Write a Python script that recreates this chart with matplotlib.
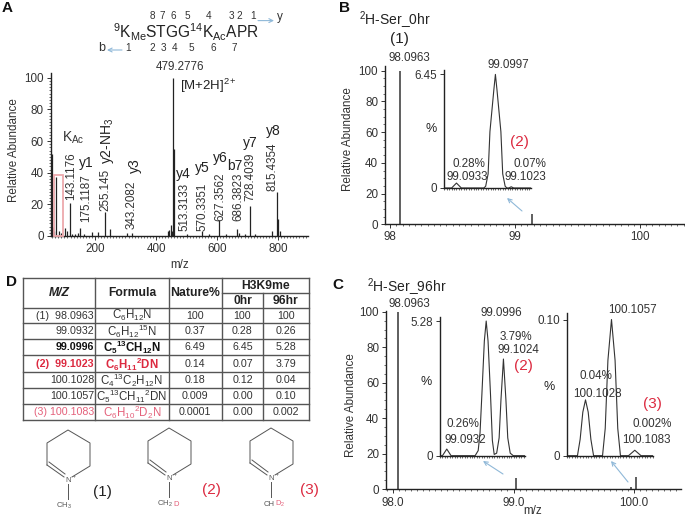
import matplotlib

matplotlib.use("Agg")

import matplotlib.pyplot as plt
from matplotlib.patches import Rectangle

plt.rcParams["font.family"] = ["Liberation Sans", "DejaVu Sans"]
plt.rcParams["mathtext.fontset"] = "custom"
plt.rcParams["mathtext.rm"] = "Liberation Sans"
plt.rcParams["mathtext.bf"] = "Liberation Sans:bold"
plt.rcParams["mathtext.it"] = "Liberation Sans:italic"
plt.rcParams["mathtext.default"] = "regular"

W, H = 685, 518
DARK = "#333333"
RED = "#dc2a40"
PINK = "#e4607a"
BLUE = "#8fb8d8"
NUM = 8.4

# panel A spectrum
a_mz = [58, 62, 66, 74, 82, 90, 102, 108, 118, 125, 135, 145, 151, 165, 190, 210, 233, 249, 304, 320,
        438, 443, 448, 452, 457, 460, 500, 550, 575, 606, 630, 667, 672, 690, 708, 725, 779, 798, 801, 806]
a_int = [52, 6, 3, 37, 3, 2, 5, 3, 21, 1.5, 1.5, 2, 5, 1.5, 2.5, 2.5, 15, 4.5, 2, 2,
         3, 4, 7, 3, 100, 55, 1, 3, 1, 10, 1.5, 4.5, 2, 1.5, 19, 1.5, 3, 28, 11, 3]
a_ticks = [200, 400, 600, 800]

# panel B spectrum and inset
b_mz = [98.08, 99.136]
b_int = [100, 7]
b_ticks = [98, 99, 100]
b_inset_mz = [99.0913, 99.0925, 99.0933, 99.0941, 99.0978, 99.0981, 99.0985, 99.0988, 99.09945, 99.0997,
              99.09995, 99.1006, 99.1009, 99.1013, 99.1016, 99.1019, 99.1023, 99.1027, 99.1055]
b_inset_int = [0, 0, 0.28, 0, 0, 0.1, 0.8, 3.2, 5.6, 6.45, 5.6, 3.2, 0.8, 0.1, 0, 0, 0.07, 0, 0]

# panel C spectrum and insets
c_mz = [98.04, 99.02, 99.98, 100.02]
c_int = [100, 6, 1, 6.5]
c_ticks = [98, 99, 100]
c_inset1_mz = [99.0921, 99.0925, 99.0932, 99.0939, 99.0978, 99.0983, 99.0986, 99.0989, 99.0993, 99.0996,
               99.0999, 99.1003, 99.1006, 99.1009, 99.1013, 99.1017, 99.1020, 99.1024, 99.1028, 99.1031,
               99.1035, 99.1040, 99.1059]
c_inset1_int = [0, 0, 0.26, 0, 0, 0.2, 0.9, 2.4, 4.5, 5.28, 4.5, 2.4, 0.6, 0.05, 0.1, 0.7, 2.2, 3.79, 2.2, 0.7,
                0.1, 0, 0]
c_inset2_mz = [100.1007, 100.1019, 100.1022, 100.1025, 100.1028, 100.1031, 100.1034, 100.1037, 100.1047,
               100.1050, 100.1053, 100.1057, 100.1061, 100.1064, 100.1067, 100.1076, 100.1083, 100.1090, 100.1103]
c_inset2_int = [0, 0, 0.012, 0.032, 0.041, 0.032, 0.012, 0, 0, 0.02, 0.07, 0.10, 0.07, 0.02, 0, 0, 0.004, 0, 0]

# table D
table_mz = ["(1)  98.0963", "99.0932", "99.0996", "(2)  99.1023", "100.1028", "100.1057", "(3) 100.1083"]
table_formula = ["$C_6H_{12}N$", "$C_6H_{12}{}^{15}N$", "$C_5{}^{13}CH_{12}N$", "$C_6H_{11}{}^{2}DN$",
                 "$C_4{}^{13}C_2H_{12}N$", "$C_5{}^{13}CH_{11}{}^{2}DN$", "$C_6H_{10}{}^{2}D_2N$"]
table_nature = ["100", "0.37", "6.49", "0.14", "0.18", "0.009", "0.0001"]
table_0hr = ["100", "0.28", "6.45", "0.07", "0.12", "0.00", "0.00"]
table_96hr = ["100", "0.26", "5.28", "3.79", "0.04", "0.10", "0.002"]


def axes_px(fig, left, top, right, bottom):
    return fig.add_axes([left / W, 1 - bottom / H, (right - left) / W, (bottom - top) / H])


def style_spectrum(ax, xlim, ylim):
    ax.set_xlim(*xlim)
    ax.set_ylim(*ylim)
    ax.patch.set_alpha(0)
    for side in ["top", "right"]:
        ax.spines[side].set_visible(False)
    for side in ["left", "bottom"]:
        ax.spines[side].set_color("#222222")
        ax.spines[side].set_linewidth(1.0)
    ax.tick_params(labelsize=NUM, colors=DARK, length=3, width=0.7, pad=2)
    ax.tick_params(which="minor", length=1.5, width=0.5, color=DARK)


fig = plt.figure(figsize=(W / 100, H / 100), dpi=100)

# A
ax = axes_px(fig, 50.7, 73, 308, 236)
style_spectrum(ax, (55, 898), (0, 103))
ax.vlines(a_mz, 0, a_int, color="#222222", linewidth=0.9)
ax.set_xticks(a_ticks)
ax.set_xticks(range(60, 900, 10), minor=True)
ax.set_yticks([0, 20, 40, 60, 80, 100])
ax.set_yticks(range(0, 101, 2), minor=True)
ax.set_xlabel("m/z", fontsize=NUM, color=DARK, labelpad=3)
ax.set_ylabel("Relative Abundance", fontsize=NUM, color=DARK, labelpad=3, y=0.53)

# B
ax = axes_px(fig, 385, 66, 685, 224.3)
style_spectrum(ax, (97.96, 100.36), (0, 103))
ax.vlines(b_mz, 0, b_int, color="#444444", linewidth=1.2)
ax.set_xticks(b_ticks)
ax.set_xticks([98 + i * 0.05 for i in range(48)], minor=True)
ax.set_yticks([0, 20, 40, 60, 80, 100])
ax.set_yticks(range(0, 101, 5), minor=True)
ax.set_ylabel("Relative Abundance", fontsize=NUM, color=DARK, labelpad=3, y=0.54)

ax = axes_px(fig, 444.3, 70, 530.7, 188)
style_spectrum(ax, (99.0913, 99.1055), (0, 6.7))
ax.plot(b_inset_mz, b_inset_int, color="#333333", linewidth=0.8)
ax.set_xticks([])
ax.set_xticks([99.0913 + i * 0.0004 for i in range(36)], minor=True)
ax.set_yticks([0, 6.45])
ax.set_yticklabels(["0", "6.45"])

# C
ax = axes_px(fig, 386, 311, 680.7, 489)
style_spectrum(ax, (97.94, 100.39), (0, 100.5))
ax.vlines(c_mz, 0, c_int, color="#333333", linewidth=1.1)
ax.set_xticks(c_ticks)
ax.set_xticklabels(["98.0", "99.0", "100.0"])
ax.tick_params(axis="x", pad=3)
ax.set_xticks([97.95 + i * 0.05 for i in range(49)], minor=True)
ax.set_yticks([0, 20, 40, 60, 80, 100])
ax.set_yticks(range(0, 101, 5), minor=True)
ax.set_ylabel("Relative Abundance", fontsize=NUM, color=DARK, labelpad=2, y=0.47)

ax = axes_px(fig, 440, 316.7, 525, 455.7)
style_spectrum(ax, (99.0921, 99.1059), (0, 5.45))
ax.plot(c_inset1_mz, c_inset1_int, color="#333333", linewidth=0.8)
ax.set_xticks([])
ax.set_xticks([99.0921 + i * 0.0004 for i in range(35)], minor=True)
ax.set_yticks([0, 5.28])
ax.set_yticklabels(["0", "5.28"])

ax = axes_px(fig, 566.7, 312.7, 652.7, 455.7)
style_spectrum(ax, (100.1007, 100.1103), (0, 0.105))
ax.plot(c_inset2_mz, c_inset2_int, color="#333333", linewidth=0.8)
ax.set_xticks([])
ax.set_xticks([100.1007 + i * 0.0003 for i in range(33)], minor=True)
ax.set_yticks([0, 0.10])
ax.set_yticklabels(["0", "0.10"])

# everything else is placed in pixel coordinates
ov = fig.add_axes([0, 0, 1, 1])
ov.set_xlim(0, W)
ov.set_ylim(H, 0)
ov.axis("off")
ov.patch.set_alpha(0)


def t(x, y, s, size=NUM, color=DARK, ha="center", **kw):
    ov.text(x, y, s, fontsize=size, color=color, ha=ha, va="center", **kw)


def arrow(x0, y0, x1, y1):
    ov.annotate("", xy=(x1, y1), xytext=(x0, y0),
                arrowprops=dict(arrowstyle="->", color=BLUE, lw=0.8, shrinkA=0, shrinkB=0, mutation_scale=7))


t(7, 8, "A", 11, "#111111", fontweight="bold")
t(345, 8, "B", 11, "#111111", fontweight="bold")
t(12, 282, "D", 11, "#111111", fontweight="bold")
t(338, 285, "C", 11, "#111111", fontweight="bold")

# A annotations
t(186, 32, "$^{9}K_{Me}STGG^{14}K_{Ac}APR$", 11.2, "#222222")
for x, s in zip([152, 162, 173, 187.5, 208.5, 231, 239, 253], "87654321"):
    t(x, 16, s, 7.2)
for x, s in zip([128, 152.5, 163.5, 174.5, 191, 213, 234.5], "1234567"):
    t(x, 48, s, 7.2)
t(280, 17, "y", 8.5)
t(101.5, 48, "b", 9)
arrow(258, 20.6, 274, 20.6)
arrow(122, 50, 107, 50)
ov.add_patch(Rectangle((54, 175), 8.7, 61, fill=False, edgecolor="#eda9ad", linewidth=1.3))
t(180, 67, "479.2776")
t(208, 86, "[M+2H]$^{2+}$", 9.5, "#222222")
t(73, 138, "$K_{Ac}$", 10)
rot_x = [71, 86, 105, 131.7, 184, 202, 220, 238, 250.7, 273]
rot_y = [176, 198, 190, 205, 207, 207, 197, 197, 177, 167]
rot_s = ["143.1176", "175.1187", "255.145", "343.2082", "513.3133", "570.3351", "627.3562", "686.3823",
         "728.4039", "815.4354"]
for x, y, s in zip(rot_x, rot_y, rot_s):
    t(x, y, s, rotation=90)
ion_x = [86, 183, 202, 220, 235, 250, 273]
ion_y = [163, 174, 168, 158, 166, 143, 131]
ion_s = ["y1", "y4", "y5", "y6", "b7", "y7", "y8"]
for x, y, s in zip(ion_x, ion_y, ion_s):
    t(x, y, s, 10, "#222222")
t(108, 141, "y2-NH$_3$", 10, "#222222", rotation=90)
t(135, 166, "y3", 10, "#222222", rotation=90)

# B annotations
t(395, 20, "$^{2}$H-Ser_0hr", 10, "#222222")
t(399, 39, "(1)", 11, "#222222")
t(409, 58, "98.0963")
t(508, 65, "99.0997")
t(431, 129, "%", 9, "#222222")
t(519, 142, "(2)", 11, RED)
t(469, 164, "0.28%")
t(467, 177, "99.0933")
t(530, 164, "0.07%")
t(525, 177, "99.1023")
arrow(522, 211, 507, 198)

# C annotations
t(407, 287, "$^{2}$H-Ser_96hr", 10, "#222222")
t(409, 304, "98.0963")
t(501, 313, "99.0996")
t(516, 337, "3.79%")
t(518, 350, "99.1024")
t(523, 366, "(2)", 11, RED)
t(426, 382, "%", 9, "#222222")
t(463, 424, "0.26%")
t(465, 440, "99.0932")
t(632, 310, "100.1057")
t(596, 376, "0.04%")
t(597, 394, "100.1028")
t(549, 387, "%", 9, "#222222")
t(652, 404, "(3)", 11, RED)
t(652, 424, "0.002%")
t(646, 440, "100.1083")
t(533, 511.5, "m/z")
arrow(503, 474, 483, 461)
arrow(628, 482, 611, 461)

# D table
col_x = [23.3, 95.3, 169, 221.7, 263.3, 309.3]
row_y = [278.3, 307.7, 322.7, 339, 355, 371.7, 387.7, 403.7, 420]
LINE = "#555555"
for y in row_y:
    ov.plot([col_x[0], col_x[-1]], [y, y], color=LINE, linewidth=1.0)
ov.plot([col_x[3], col_x[-1]], [293.3, 293.3], color=LINE, linewidth=1.0)
for x in col_x[:4] + col_x[-1:]:
    ov.plot([x, x], [row_y[0], row_y[-1]], color=LINE, linewidth=1.0)
ov.plot([col_x[4], col_x[4]], [293.3, row_y[-1]], color=LINE, linewidth=1.0)

t(59, 293, "M/Z", 8.7, "#222222", fontweight="bold", fontstyle="italic")
t(132, 293, "Formula", 8.7, "#222222", fontweight="bold")
t(195, 293, "Nature%", 8.8, "#222222", fontweight="bold")
t(265.5, 286, "H3K9me", 8.7, "#222222", fontweight="bold")
t(242.5, 301, "0hr", 8.7, "#222222", fontweight="bold")
t(286, 301, "96hr", 8.7, "#222222", fontweight="bold")
for i in range(7):
    y = (row_y[i + 2] + row_y[i + 1]) / 2 + 0.5
    color = DARK
    weight = "normal"
    if i == 2:
        color, weight = "#111111", "bold"
    if i == 3:
        color, weight = RED, "bold"
    if i == 6:
        color = PINK
    t(94, y, table_mz[i], 7.7, color, ha="right", fontweight=weight)
    t(132, y, table_formula[i], 8.3, color, fontweight=weight)
    t(195, y, table_nature[i], 7.7)
    t(242.5, y, table_0hr[i], 7.7)
    t(286, y, table_96hr[i], 7.7)


def molecule(dx, dy, label, label_x, label_color, sub, sub_red):
    mol = "#555555"
    xs = [v + dx for v in [47, 47, 68, 90, 90, 72]]
    ys = [v + dy for v in [465, 443, 430, 443, 466, 477]]
    ov.plot(xs, ys, color=mol, lw=0.7)
    ov.plot([dx + 47, dx + 64], [dy + 465, dy + 477], color=mol, lw=0.7)
    ov.plot([dx + 49, dx + 65], [dy + 462, dy + 474], color=mol, lw=0.7)
    ov.plot([dx + 68, dx + 68], [dy + 484, dy + 499], color=mol, lw=0.7)
    t(dx + 68, dy + 480, "N", 5.5, mol)
    t(dx + 74, dy + 476, "+", 3.5, mol)
    t(dx + 72, dy + 506, sub, 5.5, mol, ha="right")
    t(dx + 72, dy + 506, sub_red, 5.5, PINK, ha="left")
    t(label_x, dy + 492, label, 11, label_color)


molecule(0, 0, "(1)", 102, "#222222", "CH$_3$", "")
molecule(101, -2, "(2)", 211, RED, "CH$_2$", "D")
molecule(203, -2, "(3)", 309, RED, "CH", "D$_2$")

fig.savefig("out.png", dpi=100)
plt.close(fig)
